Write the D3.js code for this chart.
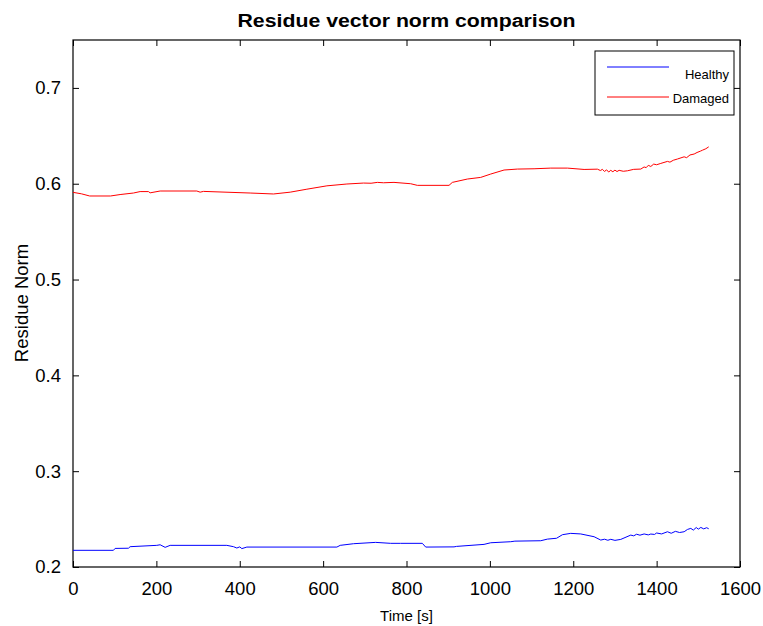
<!DOCTYPE html>
<html>
<head>
<meta charset="utf-8">
<script src="https://cdn.jsdelivr.net/npm/d3@7"></script>
<style>
  body { margin: 0; background: #fff; }
  text { font-family: "Liberation Sans", Arial, sans-serif; fill: #000; }
</style>
</head>
<body>
<div id="chart-area"></div>
<script>
// data
var xTicks = [0, 200, 400, 600, 800, 1000, 1200, 1400, 1600];
var yTicks = [0.2, 0.3, 0.4, 0.5, 0.6, 0.7];

var damagedTime = [0, 20, 40, 90, 113, 145, 161, 181, 185, 209, 297, 305, 313, 425, 481, 521, 561, 609, 657, 697,
    715, 730, 745, 770, 810, 826, 902, 910, 946, 978, 1002, 1034, 1066, 1106, 1146, 1186, 1226, 1258, 1265, 1270,
    1275, 1280, 1285, 1290, 1295, 1300, 1305, 1310, 1320, 1330, 1345, 1362, 1370, 1375, 1380, 1386, 1393, 1400,
    1410, 1426, 1432, 1440, 1450, 1466, 1472, 1480, 1490, 1497, 1505, 1510, 1518, 1525];
var damagedNorm = [0.591, 0.5895, 0.5872, 0.5872, 0.5887, 0.5903, 0.5918, 0.5918, 0.5905, 0.5924, 0.5924, 0.5912,
    0.5920, 0.5903, 0.5893, 0.5912, 0.5943, 0.5978, 0.5997, 0.6007, 0.6005, 0.6014, 0.6010, 0.6014, 0.6000, 0.5983,
    0.5983, 0.6014, 0.6049, 0.6066, 0.6101, 0.6143, 0.6153, 0.6156, 0.6163, 0.6163, 0.6149, 0.6152, 0.6138, 0.6150,
    0.6128, 0.6145, 0.6122, 0.6140, 0.6125, 0.6142, 0.6127, 0.6140, 0.6130, 0.6135, 0.6150, 0.6153, 0.6175, 0.6168,
    0.6192, 0.6180, 0.6205, 0.6198, 0.6212, 0.6233, 0.6225, 0.6245, 0.6258, 0.6281, 0.6272, 0.6300, 0.6310, 0.6326,
    0.6340, 0.6350, 0.6365, 0.6385];

var healthyTime = [0, 97, 101, 133, 137, 201, 209, 221, 233, 369, 385, 393, 400, 405, 417, 633, 641, 673, 726, 762,
    786, 838, 846, 914, 920, 986, 1002, 1050, 1060, 1122, 1138, 1160, 1174, 1194, 1218, 1250, 1266, 1275, 1283, 1290,
    1300, 1314, 1338, 1345, 1352, 1360, 1370, 1380, 1386, 1395, 1400, 1412, 1426, 1435, 1445, 1455, 1466, 1474, 1482,
    1488, 1495, 1500, 1506, 1513, 1520, 1525];
var healthyNorm = [0.2174, 0.2174, 0.2194, 0.2196, 0.2212, 0.2226, 0.2232, 0.2205, 0.2226, 0.2226, 0.2212, 0.2198,
    0.2210, 0.2192, 0.2208, 0.2208, 0.2226, 0.2243, 0.2257, 0.2247, 0.2247, 0.2247, 0.2208, 0.2210, 0.2215, 0.2236,
    0.2253, 0.2264, 0.2270, 0.2274, 0.2291, 0.2300, 0.2337, 0.2351, 0.2345, 0.2316, 0.2281, 0.2290, 0.2279, 0.2289,
    0.2278, 0.2288, 0.2333, 0.2325, 0.2342, 0.2332, 0.2345, 0.2335, 0.2344, 0.2340, 0.2355, 0.2345, 0.2368, 0.2352,
    0.2372, 0.2360, 0.2368, 0.2392, 0.2403, 0.2385, 0.2412, 0.2395, 0.2413, 0.2398, 0.2410, 0.2399];

var margin = { left: 73, right: 23, top: 40, bottom: 59 },
    width = 763 - margin.left - margin.right,
    height = 626 - margin.top - margin.bottom;

var svg = d3.select("#chart-area")
    .append("svg")
    .attr("width", 763)
    .attr("height", 626);
var g = svg.append("g")
    .attr("transform", "translate(" + margin.left + "," + margin.top + ")");

// Scales
var x = d3.scaleLinear().domain([0, 1600]).range([0, width]);
var y = d3.scaleLinear().domain([0.2, 0.75]).range([height, 0]);

// Axes (MATLAB style, ticks inside, on all four sides)
function styleAxis(sel) {
    sel.select(".domain").remove();
    sel.selectAll(".tick line").attr("stroke", "#000");
    sel.selectAll(".tick text").attr("font-size", "18.5px").attr("fill", "#000");
}
g.append("g")
    .attr("transform", "translate(0," + height + ")")
    .call(d3.axisBottom(x).tickValues(xTicks).tickSizeInner(-6).tickSizeOuter(0).tickPadding(15).tickFormat(d3.format("d")))
    .call(styleAxis);
g.append("g")
    .call(d3.axisTop(x).tickValues(xTicks).tickSizeInner(-6).tickSizeOuter(0).tickFormat(""))
    .call(styleAxis);
g.append("g")
    .call(d3.axisLeft(y).tickValues(yTicks).tickSizeInner(-6).tickSizeOuter(0).tickPadding(12).tickFormat(d3.format(".1f")))
    .call(styleAxis);
g.append("g")
    .attr("transform", "translate(" + width + ",0)")
    .call(d3.axisRight(y).tickValues(yTicks).tickSizeInner(-6).tickSizeOuter(0).tickFormat(""))
    .call(styleAxis);

g.append("rect")
    .attr("width", width)
    .attr("height", height)
    .attr("fill", "none")
    .attr("stroke", "#000")
    .attr("stroke-width", 1.2);

// Lines
var line = d3.line()
    .x(function(d){ return x(d[0]); })
    .y(function(d){ return y(d[1]); });

g.append("path")
    .attr("fill", "none")
    .attr("stroke", "#0000ff")
    .attr("stroke-width", 1)
    .attr("d", line(d3.zip(healthyTime, healthyNorm)));
g.append("path")
    .attr("fill", "none")
    .attr("stroke", "#ff0000")
    .attr("stroke-width", 1)
    .attr("d", line(d3.zip(damagedTime, damagedNorm)));

// Labels
svg.append("text")
    .attr("x", margin.left + width / 2)
    .attr("y", 27)
    .attr("text-anchor", "middle")
    .attr("font-size", "18px")
    .attr("font-weight", "bold")
    .attr("textLength", 338)
    .attr("lengthAdjust", "spacingAndGlyphs")
    .text("Residue vector norm comparison");
svg.append("text")
    .attr("x", margin.left + width / 2)
    .attr("y", 621)
    .attr("text-anchor", "middle")
    .attr("font-size", "15px")
    .text("Time [s]");
svg.append("text")
    .attr("transform", "rotate(-90)")
    .attr("x", -303)
    .attr("y", 28)
    .attr("text-anchor", "middle")
    .attr("font-size", "18.5px")
    .text("Residue Norm");

// Legend
var legend = svg.append("g");
legend.append("rect")
    .attr("x", 595).attr("y", 51)
    .attr("width", 139).attr("height", 64)
    .attr("fill", "#fff").attr("stroke", "#000");
var legendItems = [["Healthy", "#0000ff", 67, 79], ["Damaged", "#ff0000", 97, 103]];
legendItems.forEach(function(it) {
    legend.append("line")
        .attr("x1", 607).attr("x2", 669)
        .attr("y1", it[2]).attr("y2", it[2])
        .attr("stroke", it[1]);
    legend.append("text")
        .attr("x", 729).attr("y", it[3])
        .attr("text-anchor", "end")
        .attr("font-size", "13px")
        .text(it[0]);
});
</script>
</body>
</html>
